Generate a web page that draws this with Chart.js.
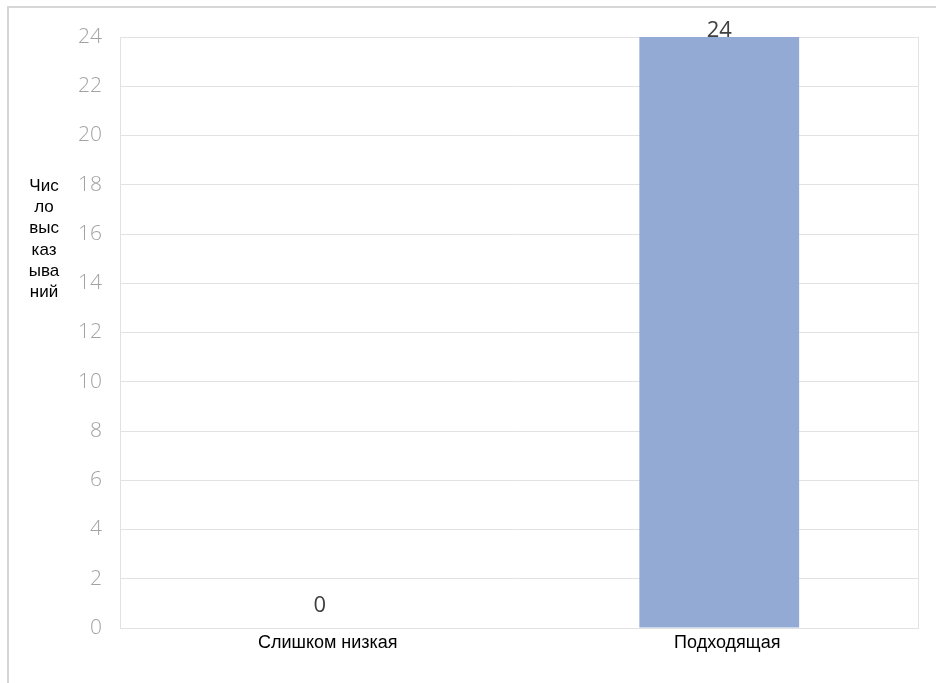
<!DOCTYPE html>
<html>
<head>
<meta charset="utf-8">
<script src="https://cdn.jsdelivr.net/npm/chart.js@4"></script>
<style>
  html, body { margin: 0; padding: 0; background: #fff; }
  #wrap { width: 936px; height: 683px; position: relative; }
</style>
</head>
<body>
<div id="wrap"><canvas id="chart" width="936" height="683"></canvas></div>
<script>
const categories = ['Слишком низкая', 'Подходящая'];
const values = [0, 24];
const yTitleLines = ['Чис', 'ло', 'выс', 'каз', 'ыва', 'ний'];
const yMin = 0;
const yMax = 24;
const yStep = 2;

// рамка, контур области построения, подпись оси и значения
const extras = {
    id: 'extras',
    beforeDatasetsDraw(chart) {
        const ctx = chart.ctx;
        const a = chart.chartArea;
        ctx.save();
        ctx.strokeStyle = '#e2e2e2';
        ctx.lineWidth = 1;
        ctx.strokeRect(a.left + 0.5, a.top + 0.5, a.right - a.left - 1, a.bottom - a.top);
        ctx.restore();
    },
    afterDraw(chart) {
        const ctx = chart.ctx;
        const a = chart.chartArea;
        ctx.save();
        // внешняя рамка
        ctx.strokeStyle = '#d6d6d6';
        ctx.lineWidth = 2;
        ctx.beginPath();
        ctx.moveTo(8, 683);
        ctx.lineTo(8, 7);
        ctx.lineTo(936, 7);
        ctx.stroke();

        // название оси Y
        ctx.fillStyle = '#000';
        ctx.font = '17px "Liberation Sans", Arial, sans-serif';
        ctx.textAlign = 'center';
        ctx.textBaseline = 'middle';
        yTitleLines.forEach((t, i) => ctx.fillText(t, 44, 186 + i * 21.3));

        // значения над столбцами
        const meta = chart.getDatasetMeta(0);
        ctx.fillStyle = '#404040';
        ctx.font = '22px "Open Sans", sans-serif';
        ctx.textBaseline = 'alphabetic';
        meta.data.forEach((bar, i) => {
            const y = Math.max(bar.y - 16, a.top);
            ctx.fillText(String(values[i]), bar.x, y);
        });
        ctx.restore();
    }
};

const ctx = document.getElementById('chart').getContext('2d');
const chart = new Chart(ctx, {
    type: 'bar',
    data: {
        labels: categories,
        datasets: [{
            data: values,
            backgroundColor: '#93abd4',
            borderWidth: 0,
            categoryPercentage: 1,
            barPercentage: 0.4
        }]
    },
    options: {
        responsive: false,
        animation: false,
        layout: { padding: { left: 10, top: 37, right: 17, bottom: 0 } },
        plugins: {
            legend: { display: false },
            tooltip: { enabled: false }
        },
        scales: {
            x: {
                grid: { display: false, drawTicks: false },
                border: { display: false },
                ticks: {
                    color: '#000',
                    font: { family: '"Liberation Sans", Arial, sans-serif', size: 18 },
                    padding: 4,
                    labelOffset: 8
                },
                afterFit(s) { s.height = 55; }
            },
            y: {
                min: yMin,
                max: yMax,
                ticks: {
                    stepSize: yStep,
                    color: '#a3a3a3',
                    font: { family: '"Open Sans", sans-serif', size: 21, weight: 300 },
                    padding: 18
                },
                grid: { color: '#e2e2e2', drawTicks: false },
                border: { display: false },
                afterFit(s) { s.width = 110; }
            }
        }
    },
    plugins: [extras]
});
</script>
</body>
</html>
